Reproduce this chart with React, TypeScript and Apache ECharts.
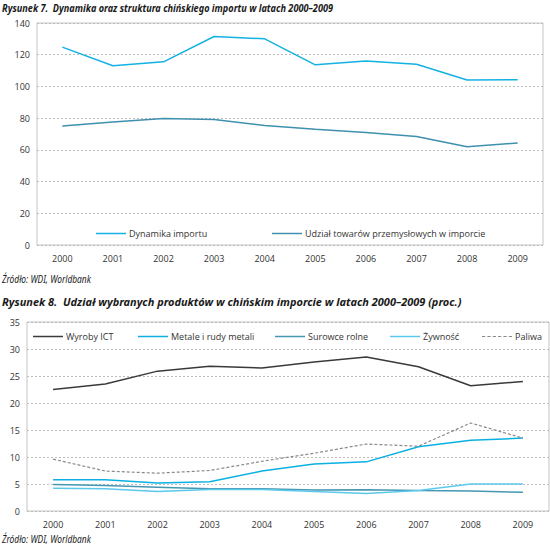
import React, { useEffect, useRef } from "react";
import * as echarts from "echarts";

const years = ["2000", "2001", "2002", "2003", "2004", "2005", "2006", "2007", "2008", "2009"];

// Rysunek 7
const dynamikaImportu = [124.8, 113, 115.5, 131.5, 130, 113.6, 116, 114, 104, 104.2];
const udzialTowarow = [75.1, 77.6, 79.7, 79.1, 75.3, 73, 70.9, 68.4, 61.9, 64.4];

// Rysunek 8
const wyrobyICT = [22.5, 23.5, 25.9, 26.8, 26.5, 27.6, 28.5, 26.7, 23.2, 24.0];
const metale = [5.8, 5.8, 5.2, 5.4, 7.4, 8.7, 9.1, 11.9, 13.1, 13.5];
const surowce = [4.9, 4.7, 4.4, 4.1, 4.1, 3.9, 3.95, 3.8, 3.7, 3.45];
const zywnosc = [4.2, 4.1, 3.6, 4.0, 4.0, 3.6, 3.25, 3.8, 5.0, 5.0];
const paliwa = [9.6, 7.4, 7.0, 7.5, 9.2, 10.7, 12.4, 12.0, 16.3, 13.5];

const FONT = "'Open Sans', 'Noto Sans', sans-serif";
const TITLE_FONT = "'Noto Sans', 'Open Sans', sans-serif";
const GRID_BORDER = "#c4c4c4";
const LABEL_COLOR = "#333";

const TITLE1 = "Rysunek 7.  Dynamika oraz struktura chińskiego importu w latach 2000–2009";
const TITLE2 = "Rysunek 8.  Udział wybranych produktów w chińskim imporcie w latach 2000–2009 (proc.)";
const SOURCE = "Źródło: WDI, Worldbank";

const DASH_ICON =
  "path://M0,0h3v1h-3zM5,0h3v1h-3zM10,0h3v1h-3zM15,0h3v1h-3zM20,0h3v1h-3zM25,0h3v1h-3z";

function fitScale(text: string, font: string, target: number): number {
  try {
    const c = document.createElement("canvas");
    const ctx = c.getContext("2d");
    if (!ctx) return 1;
    ctx.font = font;
    const w = ctx.measureText(text).width;
    if (!w) return 1;
    return target / w;
  } catch (e) {
    return 1;
  }
}

export default function App() {
  const ref = useRef<HTMLDivElement>(null);

  useEffect(() => {
    if (!ref.current) return;
    const chart = echarts.init(ref.current, null, { renderer: "svg" });

    const xAxisBase = (gridIndex: number) => ({
      type: "category" as const,
      gridIndex,
      data: years,
      boundaryGap: true,
      axisLine: { show: false },
      axisTick: { show: false },
      axisLabel: { color: LABEL_COLOR, fontFamily: FONT, fontSize: 9, margin: 9 },
      splitLine: { show: false },
    });

    const yAxisBase = (gridIndex: number, max: number, interval: number) => ({
      type: "value" as const,
      gridIndex,
      min: 0,
      max,
      interval,
      axisLine: { show: false },
      axisTick: { show: false },
      axisLabel: { color: LABEL_COLOR, fontFamily: FONT, fontSize: 9, margin: 7 },
      splitLine: { show: true, lineStyle: { color: "#bdbdbd", type: [2, 2], width: 1 } },
    });

    const lineSeries = (
      name: string,
      data: number[],
      color: string,
      idx: number,
      width = 1.5,
      type: any = "solid"
    ) => ({
      name,
      type: "line" as const,
      xAxisIndex: idx,
      yAxisIndex: idx,
      data,
      symbol: "none",
      showSymbol: false,
      smooth: false,
      lineStyle: { color, width, type },
      itemStyle: { color },
    });

    const legendItem = (name: string, left: number, top: number, dashed = false) => ({
      data: [name],
      left,
      top,
      icon: dashed ? DASH_ICON : "rect",
      itemWidth: 30,
      itemHeight: dashed ? 1.2 : 1.5,
      itemGap: 0,
      padding: 0,
      textStyle: { color: LABEL_COLOR, fontFamily: FONT, fontSize: 9, padding: [0, 0, 0, -2] },
      selectedMode: false,
    });

    const titleFont = `italic bold 11px ${TITLE_FONT}`;
    const sourceFont = `italic 10px ${TITLE_FONT}`;
    const s1 = fitScale(TITLE1, titleFont, 331);
    const s2 = fitScale(TITLE2, titleFont, 460);
    const s3 = fitScale(SOURCE, sourceFont, 89);

    const option: any = {
      animation: false,
      backgroundColor: "#ffffff",
      grid: [
        { left: 37, top: 23, width: 506, height: 222, show: true, borderColor: GRID_BORDER, borderWidth: 1 },
        { left: 27, top: 322, width: 522, height: 189, show: true, borderColor: GRID_BORDER, borderWidth: 1 },
      ],
      xAxis: [xAxisBase(0), xAxisBase(1)],
      yAxis: [yAxisBase(0, 140, 20), yAxisBase(1, 35, 5)],
      legend: [
        legendItem("Dynamika importu", 96, 229),
        legendItem("Udział towarów przemysłowych w imporcie", 272, 229),
        legendItem("Wyroby ICT", 33, 332),
        legendItem("Metale i rudy metali", 138, 332),
        legendItem("Surowce rolne", 275, 332),
        legendItem("Żywność", 390, 332),
        legendItem("Paliwa", 482, 332, true),
      ],
      series: [
        lineSeries("Dynamika importu", dynamikaImportu, "#14b1e3", 0),
        lineSeries("Udział towarów przemysłowych w imporcie", udzialTowarow, "#3f90ae", 0),
        lineSeries("Wyroby ICT", wyrobyICT, "#3a3a3a", 1),
        lineSeries("Metale i rudy metali", metale, "#0bb0e2", 1),
        lineSeries("Surowce rolne", surowce, "#4597b2", 1),
        lineSeries("Żywność", zywnosc, "#5cc9ec", 1),
        lineSeries("Paliwa", paliwa, "#8a8a8a", 1, 1.2, [3, 2]),
      ],
      graphic: [
        {
          type: "text",
          x: 2,
          y: 2,
          scaleX: s1,
          style: { text: TITLE1, font: titleFont, fill: "#1a1a1a" },
        },
        {
          type: "text",
          x: 2,
          y: 274,
          scaleX: s3,
          style: { text: SOURCE, font: sourceFont, fill: "#1a1a1a" },
        },
        {
          type: "text",
          x: 2,
          y: 296,
          scaleX: s2,
          style: { text: TITLE2, font: titleFont, fill: "#1a1a1a" },
        },
        {
          type: "text",
          x: 2,
          y: 534,
          scaleX: s3,
          style: { text: SOURCE, font: sourceFont, fill: "#1a1a1a" },
        },
      ],
    };

    chart.setOption(option);
    return () => chart.dispose();
  }, []);

  return (
    <div
      ref={ref}
      style={{ position: "absolute", left: 0, top: 0, width: 550, height: 548, background: "#fff" }}
    />
  );
}
